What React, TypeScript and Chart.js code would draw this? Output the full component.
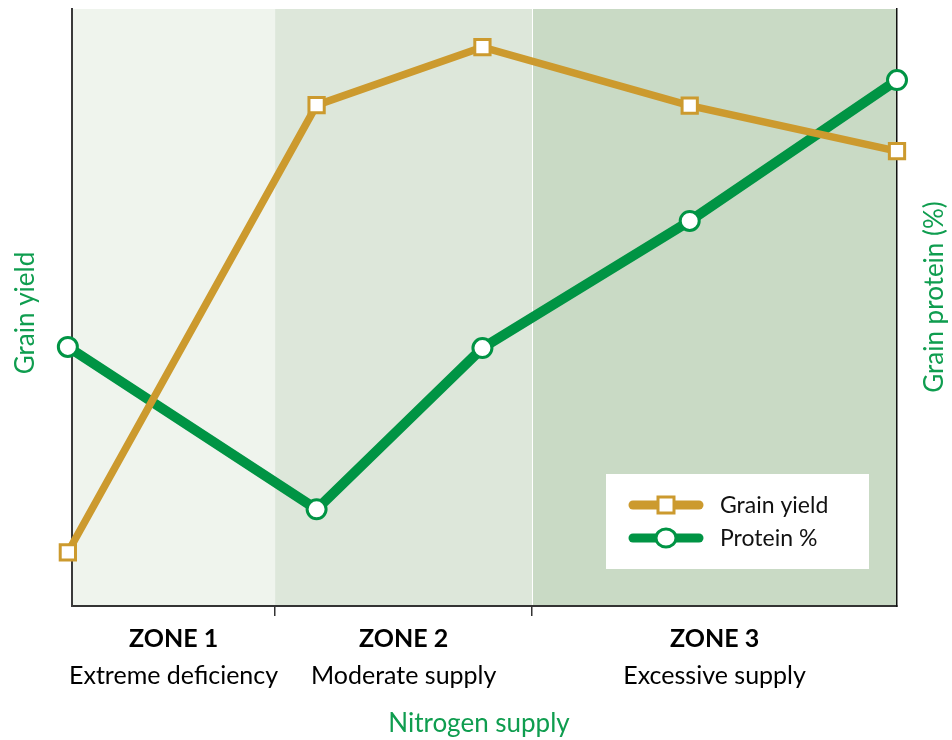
import React, { useEffect, useRef } from "react";
import { Chart, registerables } from "chart.js";

Chart.register(...registerables);

// ---- data ----
const nitrogenSupply = [0, 30, 50, 75, 100];
const grainYield = [9.0, 83.9, 93.6, 83.8, 76.2];
const proteinPct = [43.4, 16.2, 43.2, 64.5, 88.1];
const seriesLabels = ["Grain yield", "Protein %"];
const zoneEdges = [25, 56];
const zoneNames = ["ZONE 1", "ZONE 2", "ZONE 3"];
const zoneDescriptions = ["Extreme deficiency", "Moderate supply", "Excessive supply"];
const xTitle = "Nitrogen supply";
const yTitle = "Grain yield";
const y1Title = "Grain protein (%)";

// ---- styles ----
const FONT = "Lato, 'Open Sans', sans-serif";
const GOLD = "#cc9a2e";
const GREEN = "#009444";
const TITLE_GREEN = "#0f9d4f";
const ZONE_COLORS = ["#eff4ed", "#dde7da", "#c9dac5"];
const AXIS = "#333333";

const decorPlugin = {
  id: "decor",
  beforeDraw(chart: any) {
    const { ctx, chartArea: ca, scales } = chart;
    const x = scales.x;
    const edges = [ca.left, ...zoneEdges.map((v) => x.getPixelForValue(v)), ca.right];
    ctx.save();
    ZONE_COLORS.forEach((c, i) => {
      ctx.fillStyle = c;
      ctx.fillRect(edges[i], ca.top, edges[i + 1] - edges[i], ca.bottom - ca.top);
    });
    ctx.strokeStyle = "#ffffff";
    ctx.lineWidth = 1;
    ctx.beginPath();
    ctx.moveTo(Math.round(edges[2]) + 0.5, ca.top);
    ctx.lineTo(Math.round(edges[2]) + 0.5, ca.bottom);
    ctx.stroke();
    ctx.restore();
  },
  afterDraw(chart: any) {
    const { ctx, chartArea: ca, scales } = chart;
    const x = scales.x;
    const edges = [ca.left, ...zoneEdges.map((v) => x.getPixelForValue(v)), ca.right];
    ctx.save();
    // zone labels
    ctx.textAlign = "center";
    ctx.textBaseline = "alphabetic";
    ctx.fillStyle = "#000000";
    zoneNames.forEach((n, i) => {
      const cx = (edges[i] + edges[i + 1]) / 2;
      ctx.font = `bold 25px ${FONT}`;
      ctx.fillText(n, cx, 647);
      ctx.font = `25px ${FONT}`;
      ctx.fillText(zoneDescriptions[i], cx, 684);
    });
    // x title
    ctx.fillStyle = TITLE_GREEN;
    ctx.font = `26px ${FONT}`;
    ctx.fillText(xTitle, 479, 732);
    // y titles
    ctx.textBaseline = "middle";
    ctx.save();
    ctx.translate(26, 313);
    ctx.rotate(-Math.PI / 2);
    ctx.fillText(yTitle, 0, 0);
    ctx.restore();
    ctx.save();
    ctx.translate(935, 297);
    ctx.rotate(-Math.PI / 2);
    ctx.fillText(y1Title, 0, 0);
    ctx.restore();

    // legend
    const bx = 606, by = 474, bw = 263, bh = 95;
    ctx.fillStyle = "#ffffff";
    ctx.fillRect(bx, by, bw, bh);
    const rows = [505, 538];
    chart.data.datasets.forEach((ds: any, i: number) => {
      const yy = rows[i];
      ctx.strokeStyle = ds.borderColor;
      ctx.lineWidth = 9;
      ctx.lineCap = "round";
      ctx.beginPath();
      ctx.moveTo(633, yy);
      ctx.lineTo(699, yy);
      ctx.stroke();
      ctx.lineCap = "butt";
      ctx.lineWidth = 3;
      ctx.fillStyle = "#ffffff";
      if (ds.pointStyle === "rect") {
        ctx.fillRect(658, yy - 8, 16, 16);
        ctx.strokeRect(658, yy - 8, 16, 16);
      } else {
        ctx.beginPath();
        ctx.ellipse(666, yy, 10, 9, 0, 0, Math.PI * 2);
        ctx.fill();
        ctx.stroke();
      }
      ctx.fillStyle = "#111111";
      ctx.font = `23px ${FONT}`;
      ctx.textAlign = "left";
      ctx.textBaseline = "alphabetic";
      ctx.fillText(ds.label, 720, yy + 8);
    });
    ctx.restore();
  },
};

export default function App() {
  const ref = useRef<HTMLCanvasElement | null>(null);
  useEffect(() => {
    document.body.style.margin = "0";
    if (!ref.current) return;
    const chart = new Chart(ref.current, {
      type: "line",
      data: {
        datasets: [
          {
            label: seriesLabels[0],
            data: nitrogenSupply.map((v, i) => ({ x: v, y: grainYield[i] })),
            yAxisID: "y",
            borderColor: GOLD,
            borderWidth: 7.5,
            pointStyle: "rect",
            pointRadius: 10.8,
            pointBorderWidth: 3,
            pointBackgroundColor: "#ffffff",
            pointBorderColor: GOLD,
            clip: false,
            tension: 0,
          },
          {
            label: seriesLabels[1],
            data: nitrogenSupply.map((v, i) => ({ x: v, y: proteinPct[i] })),
            yAxisID: "y1",
            borderColor: GREEN,
            borderWidth: 10,
            pointStyle: "circle",
            pointRadius: 9.5,
            pointBorderWidth: 3,
            pointBackgroundColor: "#ffffff",
            pointBorderColor: GREEN,
            clip: false,
            tension: 0,
          },
        ],
      },
      options: {
        responsive: false,
        animation: false,
        devicePixelRatio: 1,
        layout: { autoPadding: false, padding: { left: 72, right: 55, top: 9, bottom: 124 } },
        plugins: { legend: { display: false }, tooltip: { enabled: false } },
        scales: {
          x: {
            type: "linear",
            min: 0.5,
            max: 100,
            afterBuildTicks: (scale: any) => {
              scale.ticks = zoneEdges.map((v) => ({ value: v }));
            },
            ticks: { display: false },
            grid: {
              display: true,
              drawOnChartArea: false,
              drawTicks: true,
              tickLength: 10,
              color: AXIS,
              lineWidth: 1.5,
            },
            border: { display: true, color: AXIS, width: 2 },
          },
          y: {
            position: "left",
            min: 0,
            max: 100,
            ticks: { display: false },
            grid: { display: false, drawTicks: false },
            border: { display: true, color: "#3a3a3a", width: 2 },
          },
          y1: {
            position: "right",
            min: 0,
            max: 100,
            ticks: { display: false },
            grid: { display: false, drawTicks: false },
            border: { display: true, color: "#111111", width: 1.5 },
          },
        },
      },
      plugins: [decorPlugin],
    } as any);
    return () => chart.destroy();
  }, []);
  return (
    <div style={{ width: 952, height: 740 }}>
      <canvas ref={ref} width={952} height={740} style={{ display: "block" }} />
    </div>
  );
}
